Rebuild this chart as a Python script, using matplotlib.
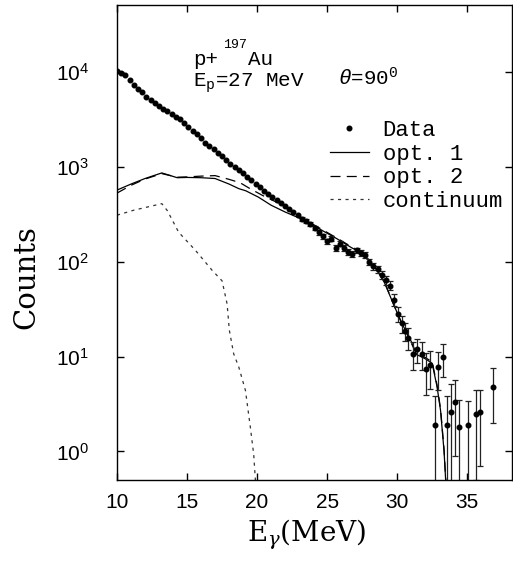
import matplotlib
matplotlib.use("Agg")
import matplotlib.pyplot as plt
from matplotlib.lines import Line2D

plt.rcParams['mathtext.fontset'] = 'custom'
plt.rcParams['mathtext.rm'] = 'Liberation Mono'
plt.rcParams['mathtext.it'] = 'Liberation Mono:italic'
plt.rcParams['mathtext.bf'] = 'Liberation Mono:bold'

# ---- data ----
E_dense = [10.0, 10.3, 10.6, 10.9, 11.2, 11.5, 11.8, 12.1, 12.4, 12.7,
           13.0, 13.3, 13.6, 13.9, 14.2, 14.5, 14.8, 15.1, 15.4, 15.7,
           16.0, 16.3, 16.6, 16.9, 17.2, 17.5, 17.8, 18.1, 18.4, 18.7,
           19.0, 19.3, 19.6, 19.9, 20.2, 20.5, 20.8, 21.1, 21.4, 21.7,
           22.0, 22.3, 22.6, 22.9]
C_dense = [10200, 9800, 9300, 8300, 7400, 6600, 6100, 5500, 5050, 4700,
           4400, 4100, 3900, 3650, 3400, 3200, 2900, 2650, 2400, 2200,
           2000, 1800, 1650, 1530, 1400, 1300, 1190, 1080, 1000, 930,
           860, 790, 730, 660, 610, 560, 520, 485, 450, 420,
           385, 360, 335, 310]

E_err = [23.2, 23.5, 23.8, 24.1, 24.4, 24.7, 25.0, 25.3, 25.6, 25.9, 26.2,
         26.5, 26.8, 27.1, 27.4, 27.7, 28.0, 28.3, 28.6, 28.9, 29.2, 29.5,
         29.8, 30.09, 30.33, 30.57, 30.8, 31.16, 31.45, 31.76, 32.07, 32.36,
         32.67, 32.95, 33.26, 33.55, 33.86, 34.14, 34.45, 35.05, 35.64, 35.93,
         36.84]
C_err = [285, 270, 250, 228, 205, 185, 165, 175, 140, 155, 140,
         128, 122, 132, 125, 118, 100, 90, 84, 73, 64, 56,
         40, 28, 22.4, 18.6, 15.8, 10.7, 12.0, 10.7, 7.4, 8.1,
         1.9, 7.8, 9.8, 1.9, 2.6, 3.3, 1.8, 1.9, 2.5, 2.6,
         4.8]
dC_err = [15, 14, 13, 12, 12, 11, 10, 10, 10, 10, 10,
          10, 9, 9, 9, 9, 8, 8, 7, 7, 6.5, 6,
          5.5, 5, 4.5, 4, 4, 3.4, 3.5, 3.4, 3.5, 3.5,
          1.9, 3.4, 3.7, 1.9, 2.5, 2.4, 1.7, 1.5, 2.0, 1.9,
          2.8]

E_opt1 = [10.0, 11.0, 12.0, 13.2, 14.3, 15.0, 16.0, 17.0, 18.0, 18.7, 19.2,
          20.1, 21.0, 22.0, 23.3, 24.5, 25.7, 26.7, 27.5, 28.1, 28.6, 29.1,
          29.8, 30.3, 31.0, 31.4, 32.0, 32.5, 32.85, 33.1, 33.35, 33.5]
C_opt1 = [570, 660, 755, 865, 770, 775, 770, 755, 660, 590, 560,
          480, 395, 335, 277, 220, 175, 142, 122, 98, 80, 60,
          34, 23, 14.5, 10.5, 9.5, 8.5, 4.8, 2.7, 1.0, 0.4]

E_opt2 = [10.0, 11.0, 12.0, 13.2, 14.3, 15.0, 16.0, 17.0, 18.0, 18.8, 19.5,
          20.4, 21.1, 21.8, 22.5, 23.3, 24.5, 25.7, 26.7, 27.5, 28.1, 28.6,
          29.1, 29.8, 30.3, 31.0, 31.4, 32.0, 32.5, 32.85, 33.1, 33.35, 33.5]
C_opt2 = [530, 640, 745, 850, 780, 785, 800, 810, 740, 680, 590,
          500, 445, 400, 340, 285, 225, 178, 145, 124, 100, 80,
          61, 34, 23, 14, 10.5, 9.8, 8.8, 5.0, 2.8, 1.05, 0.42]

E_cont = [10.0, 11.2, 13.2, 13.6, 14.4, 15.6, 16.8, 17.5, 17.86, 18.02, 18.33,
          18.69, 19.17, 19.52, 19.76, 19.9]
C_cont = [310, 350, 410, 345, 205, 132, 81, 63, 36, 19, 10.7,
          7.8, 4.4, 1.8, 0.93, 0.45]

x_ticks = [10, 15, 20, 25, 30, 35]
y_ticks = [1, 10, 100, 1000, 10000]

# ---- figure ----
fig = plt.figure(figsize=(5.13, 5.63), dpi=100)
ax = fig.add_axes([117/513, 83/563, 395/513, 475/563])
ax.set_yscale('log')
ax.set_xlim(10, 38.2)
ax.set_ylim(0.5, 5.1e4)

ax.plot(E_opt1, C_opt1, '-', color='black', lw=0.9)
ax.plot(E_opt2, C_opt2, '--', color='black', lw=0.9, dashes=(8, 5))
ax.plot(E_cont, C_cont, '--', color='#333333', lw=0.9, dashes=(2.5, 3.5))
ax.errorbar(E_err, C_err, yerr=dC_err, fmt='o', ms=3.3, color='black',
            ecolor='#222222', elinewidth=0.9, capsize=2, capthick=0.9)
ax.plot(E_dense, C_dense, 'o', ms=3.3, color='black')

ax.set_xticks(x_ticks)
ax.set_yticks(y_ticks)
ax.minorticks_off()
ax.tick_params(direction='in', top=True, right=True, length=5, width=1.0)
ax.tick_params(axis='x', pad=9)
ax.tick_params(axis='y', pad=20)
for lab in ax.get_xticklabels() + ax.get_yticklabels():
    lab.set_fontfamily('Liberation Sans')
    lab.set_fontsize(15)
for s in ax.spines.values():
    s.set_linewidth(1.0)

ax.set_xlabel(r'E$_\gamma$(MeV)', fontsize=20, family='DejaVu Serif',
              math_fontfamily='dejavuserif')
ax.xaxis.set_label_coords(0.48, -0.08)
ax.set_ylabel('Counts', fontsize=21, family='DejaVu Serif')
ax.yaxis.set_label_coords(-0.195, 0.427)

# annotations
mono = 'Liberation Mono'
ax.text(0.192, 0.874, 'p+', transform=ax.transAxes, fontsize=15, family=mono)
ax.text(0.268, 0.909, '197', transform=ax.transAxes, fontsize=9.5, family=mono)
ax.text(0.332, 0.874, 'Au', transform=ax.transAxes, fontsize=15, family=mono)
ax.text(0.192, 0.829, r'E$_{\rm p}$=27 MeV', transform=ax.transAxes, fontsize=15, family=mono)
ax.text(0.56, 0.831, r'$\theta$=90$^{0}$', transform=ax.transAxes, fontsize=15, family=mono)

handles = [Line2D([], [], ls='none', marker='o', ms=3.3, color='black'),
           Line2D([], [], ls='-', color='black', lw=0.9),
           Line2D([], [], ls='--', dashes=(8, 5), color='black', lw=0.9),
           Line2D([], [], ls='--', dashes=(2.5, 3.5), color='#333333', lw=0.9)]
labels = ['Data', 'opt. 1', 'opt. 2', 'continuum']
ax.legend(handles, labels, loc='upper left', bbox_to_anchor=(0.539, 0.758),
          frameon=False, borderpad=0, borderaxespad=0, handlelength=1.75,
          handletextpad=0.62, labelspacing=0.12, numpoints=1,
          prop={'family': mono, 'size': 16})

fig.savefig('out.png', dpi=100)
